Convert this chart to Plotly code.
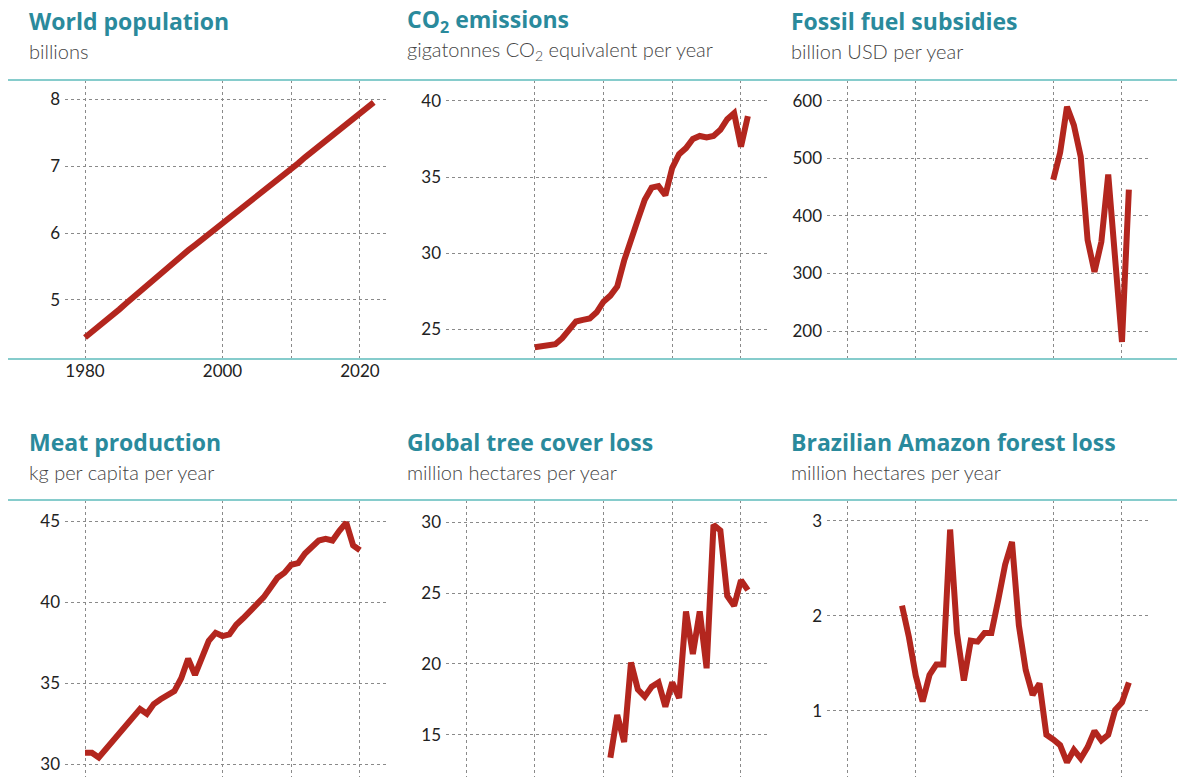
import plotly.graph_objects as go

# ---------------- data ----------------
pop_years = list(range(1980, 2023))
pop_values = [4.44, 4.52, 4.61, 4.69, 4.77, 4.86, 4.95, 5.04, 5.13, 5.22,
              5.32, 5.41, 5.49, 5.58, 5.66, 5.74, 5.82, 5.90, 5.98, 6.06,
              6.14, 6.22, 6.30, 6.38, 6.46, 6.54, 6.62, 6.71, 6.79, 6.87,
              6.96, 7.04, 7.13, 7.21, 7.30, 7.38, 7.46, 7.55, 7.63, 7.71,
              7.79, 7.87, 7.95]

co2_years = list(range(1990, 2022))
co2_values = [23.8, 23.9, 23.9, 24.0, 24.4, 25.0, 25.5, 25.6, 25.7, 26.1,
              26.8, 27.2, 27.8, 29.5, 31.0, 32.2, 33.5, 34.3, 34.4, 33.8,
              35.6, 36.5, 36.9, 37.5, 37.7, 37.6, 37.7, 38.1, 38.8, 39.2,
              37.0, 39.0]

subs_years = list(range(2010, 2022))
subs_values = [463, 510, 590, 558, 503, 358, 303, 355, 472, 335, 181, 446]

meat_years = list(range(1980, 2021))
meat_values = [30.7, 30.7, 30.4, 30.9, 31.4, 31.8, 32.3, 32.8, 33.4, 33.1,
               33.7, 34.0, 34.2, 34.5, 35.3, 36.5, 35.5, 36.6, 37.6, 38.1,
               37.9, 38.0, 38.6, 39.0, 39.4, 39.8, 40.3, 40.9, 41.5, 41.8,
               42.3, 42.4, 43.0, 43.4, 43.8, 43.9, 43.8, 44.4, 44.9, 43.5,
               43.2]

tree_years = list(range(2001, 2022))
tree_values = [13.4, 16.4, 14.5, 20.1, 18.2, 17.7, 18.4, 18.7, 17.0, 18.7,
               17.6, 23.7, 20.7, 23.7, 19.7, 29.8, 29.4, 24.8, 24.1, 25.9,
               25.2]

amazon_years = list(range(1988, 2022))
amazon_values = [2.11, 1.78, 1.37, 1.10, 1.38, 1.49, 1.49, 2.91, 1.82, 1.32,
                 1.74, 1.73, 1.82, 1.82, 2.17, 2.54, 2.78, 1.90, 1.43, 1.17,
                 1.29, 0.75, 0.70, 0.64, 0.46, 0.59, 0.50, 0.62, 0.79, 0.69,
                 0.75, 1.01, 1.09, 1.30]

titles = ["World population", "CO<sub>2</sub> emissions", "Fossil fuel subsidies",
          "Meat production", "Global tree cover loss", "Brazilian Amazon forest loss"]
subtitles = ["billions", "gigatonnes CO<sub>2</sub> equivalent per year",
             "billion USD per year", "kg per capita per year",
             "million hectares per year", "million hectares per year"]

y_ticks = [[5, 6, 7, 8], [25, 30, 35, 40], [200, 300, 400, 500, 600],
           [30, 35, 40, 45], [15, 20, 25, 30], [1, 2, 3]]
x_grid = [[1980, 2000, 2010, 2020], [1990, 2000, 2010, 2020], [1980, 1990, 2010, 2020],
          [1980, 2000, 2010, 2020], [1980, 1990, 2000, 2010, 2020], [1980, 1990, 2010, 2020]]
x_label_years = [1980, 2000, 2020]

series = [(pop_years, pop_values), (co2_years, co2_values), (subs_years, subs_values),
          (meat_years, meat_values), (tree_years, tree_values), (amazon_years, amazon_values)]

# ---------------- layout geometry ----------------
W, H = 1177, 777
RED = "#b3261e"
TEAL_TEXT = "#2a8a9c"
TEAL_LINE = "#86cccc"
GRID = "#8a8a8a"
FONT = "Lato"

col_px = [(65, 387), (446, 768), (827, 1149)]
row_px = [(80, 359), (500, 777)]
y_ranges = [[4.119, 8.284], [23.03, 41.38], [151.3, 636.5],
            [29.20, 46.30], [12.04, 31.55], [0.305, 3.221]]
x_range = [1977.09, 2023.93]
title_x = [27, 405, 789]
title_y = [21, 442]
sub_y = [51, 472]

fig = go.Figure()
annotations = []
for i, (xs, ys) in enumerate(series):
    r, c = divmod(i, 3)
    n = i + 1
    xa = "x" if n == 1 else f"x{n}"
    ya = "y" if n == 1 else f"y{n}"
    fig.add_trace(go.Scatter(x=xs, y=ys, mode="lines", xaxis=xa, yaxis=ya,
                             line=dict(color=RED, width=6), showlegend=False,
                             hoverinfo="skip"))
    x0, x1 = col_px[c]
    y0, y1 = row_px[r]
    if i == 0:
        major = [v for v in x_grid[i] if v in x_label_years]
        minor_vals = [v for v in x_grid[i] if v not in x_label_years]
        xdict = dict(tickvals=major, showticklabels=True,
                     minor=dict(tickvals=minor_vals, showgrid=True, gridcolor=GRID,
                                griddash="dot", gridwidth=1, ticks=""))
    else:
        xdict = dict(tickvals=x_grid[i], showticklabels=False)
    fig.layout[f"xaxis{'' if n == 1 else n}"] = dict(
        domain=[x0 / W, x1 / W], range=x_range, anchor=ya,
        showgrid=True, gridcolor=GRID, griddash="dot",
        gridwidth=1, zeroline=False, showline=False, ticks="",
        tickfont=dict(family=FONT, size=17, color="#222"), fixedrange=True, **xdict)
    fig.layout[f"yaxis{'' if n == 1 else n}"] = dict(
        domain=[1 - y1 / H, 1 - y0 / H], range=y_ranges[i], anchor=xa,
        tickvals=y_ticks[i], showgrid=True, gridcolor=GRID, griddash="dot",
        gridwidth=1, zeroline=False, showline=False, ticks="",
        ticklabelstandoff=4,
        tickfont=dict(family=FONT, size=17, color="#222"), fixedrange=True)
    annotations.append(dict(text=f"<b>{titles[i]}</b>", xref="paper", yref="paper",
                            x=title_x[c] / W, y=1 - title_y[r] / H, xanchor="left",
                            yanchor="middle", showarrow=False,
                            font=dict(family="Open Sans", size=23, color=TEAL_TEXT,
                                      weight=800)))
    annotations.append(dict(text=subtitles[i], xref="paper", yref="paper",
                            x=title_x[c] / W, y=1 - sub_y[r] / H, xanchor="left",
                            yanchor="middle", showarrow=False,
                            font=dict(family=FONT, size=20, color="#444", weight=300)))

shapes = []
for yp in [80, 359, 500]:
    shapes.append(dict(type="line", xref="paper", yref="paper", x0=8 / W, x1=1,
                       y0=1 - yp / H, y1=1 - yp / H,
                       line=dict(color=TEAL_LINE, width=2)))

fig.update_layout(width=W, height=H, margin=dict(l=0, r=0, t=0, b=0),
                  paper_bgcolor="white", plot_bgcolor="white",
                  annotations=annotations, shapes=shapes,
                  font=dict(family=FONT))

fig.write_html("out.html", config={"displayModeBar": False},
               post_script="document.body.style.margin='0';")
